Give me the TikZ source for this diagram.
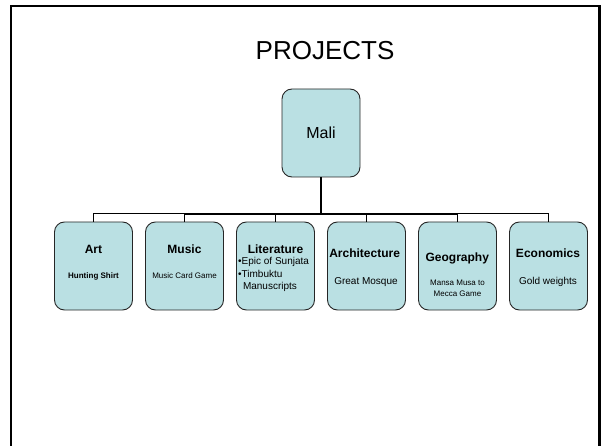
\documentclass[tikz,border=0pt]{standalone}
\usepackage{fontspec}
\setmainfont{Liberation Sans}
\usetikzlibrary{positioning}
\definecolor{malibox}{RGB}{186,224,227}

\begin{document}
\begin{tikzpicture}[x=1pt,y=-1pt,
    unit node/.style={rectangle,rounded corners=10pt,draw=black!85,line width=0.9pt,fill=malibox,minimum width=78pt,minimum height=88pt,inner sep=0pt},
    head node/.style={anchor=base,inner sep=0pt,font=\fontsize{12}{14}\selectfont\bfseries},
    sub node/.style={anchor=base,inner sep=0pt,font=\fontsize{10}{12}\selectfont},
    tiny node/.style={anchor=base,inner sep=0pt,font=\fontsize{8}{10}\selectfont},
    thin link/.style={line width=1pt}]
   \useasboundingbox (0,0) rectangle (602,446);
   % slide frame, open at the bottom
   \draw[line width=2.3pt] (11,446) -- (11,5.7) -- (599.5,5.7) -- (599.5,446);
   \node[anchor=base,inner sep=0pt,font=\fontsize{26}{30}\selectfont] (title) at (325,60) {PROJECTS};
   % root
   \node[unit node,font=\fontsize{16}{19}\selectfont] (mali) at (321,133) {Mali};
   % children
   \node[unit node] (art) at (93.5,266) {};
   \node[unit node] (music) at (184.5,266) {};
   \node[unit node] (lit) at (275.5,266) {};
   \node[unit node] (arch) at (366.5,266) {};
   \node[unit node] (geo) at (457.5,266) {};
   \node[unit node] (econ) at (548.5,266) {};
   % connectors
   \coordinate (hub) at (321,214);
   \foreach \c in {art,music,lit,arch,geo,econ}
      \draw[thin link] (hub) -| (\c.north);
   \draw[line width=2pt] (music.north |- hub) -- (geo.north |- hub);
   \draw[line width=2.6pt] (mali.south) -- (hub);
   % texts
   \node[head node] (art-h) at (93.5,253.3) {Art};
   \node[tiny node,font=\fontsize{8}{10}\selectfont\bfseries] (art-s) at (93.5,279) {Hunting Shirt};
   \node[head node] (music-h) at (184.5,253.3) {Music};
   \node[tiny node] (music-s) at (184.5,278.3) {Music Card Game};
   \node[head node] (lit-h) at (275.5,253.3) {Literature};
   \node[sub node,anchor=base west] (lit-a) at (238,265) {•Epic of Sunjata};
   \node[sub node,anchor=base west] (lit-b) at (238,277.3) {•Timbuktu};
   \node[sub node,anchor=base west] (lit-c) at (242.8,289) {Manuscripts};
   \node[head node] (arch-h) at (364.6,258) {Architecture};
   \node[sub node] (arch-s) at (366,284.3) {Great Mosque};
   \node[head node] (geo-h) at (457.3,261.5) {Geography};
   \node[tiny node] (geo-s) at (457.5,286) {Mansa Musa to};
   \node[tiny node] (geo-t) at (457.5,296) {Mecca Game};
   \node[head node] (econ-h) at (548,257.3) {Economics};
   \node[sub node] (econ-s) at (548,284.3) {Gold weights};
\end{tikzpicture}
\end{document}
